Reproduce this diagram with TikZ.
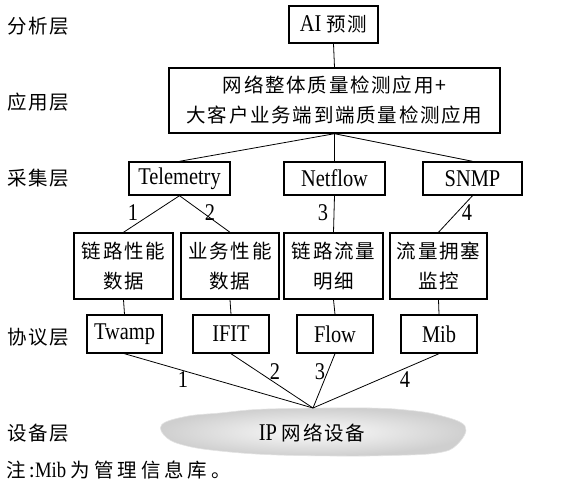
\documentclass[tikz,border=0pt]{standalone}
\usepackage{fontspec}
\setmainfont[FakeStretch=0.85]{Liberation Serif}
\newfontfamily\cjk[LetterSpace=9]{Noto Sans CJK SC}
\newfontfamily\cjkw[LetterSpace=20]{Noto Sans CJK SC}
\newcommand\zh[1]{{\cjk\fontsize{19.5}{30}\selectfont #1}}
\newcommand\zhw[1]{{\cjkw\fontsize{19.5}{30}\selectfont #1}}
\begin{document}
\begin{tikzpicture}[x=1pt,y=-1pt,
  box/.style={draw, line width=1.4pt, inner sep=0pt, align=center},
  lat/.style={font=\fontsize{24}{28}\selectfont},
  chn/.style={font=\cjk\fontsize{19.5}{30}\selectfont},
  lbl/.style={font=\fontsize{24}{28}\selectfont, inner sep=0pt},
  conn/.style={line width=0.8pt}]
\useasboundingbox (0,0) rectangle (573,481);
% cloud
\path[draw=gray!22, line width=0.6pt, inner color=white!97!gray, outer color=gray!38]
  plot[smooth cycle, tension=0.65] coordinates {
  (161.7,424.7) (186.7,416.3) (220,413) (253,409.7) (290,408.5) (330,408) (370,408)
  (403,409.7) (437,414.7) (465,426) (457,444.7) (437,453) (390,455.5) (337,456)
  (270,454.7) (220,451) (187,446) (167,438)};
\node[font=\fontsize{24}{28}\selectfont] (clt) at (312,433) {IP \zh{网络设备}};
\coordinate (cp) at (313,408);
% left labels
\node[chn, anchor=west, inner sep=0pt] (la) at (7,26) {分析层};
\node[chn, anchor=west, inner sep=0pt] (lb) at (7,102) {应用层};
\node[chn, anchor=west, inner sep=0pt] (lc) at (7,178) {采集层};
\node[chn, anchor=west, inner sep=0pt] (ld) at (7,337) {协议层};
\node[chn, anchor=west, inner sep=0pt] (le) at (7,433) {设备层};
\node[anchor=west, inner sep=0pt, font=\fontsize{22}{26}\selectfont] (note) at (6,470) {\zhw{注:}Mib \zhw{为管理信息库。}};
% boxes
\node[box, lat, minimum width=89, minimum height=37] (ai) at (333.5,24.5) {AI \zh{预测}};
\node[box, chn, minimum width=331, minimum height=65] (app) at (334.5,100.5) {网络整体质量检测应用+\\大客户业务端到端质量检测应用};
\node[box, lat, minimum width=101, minimum height=33] (tel) at (179.5,178.5) {Telemetry};
\node[box, lat, minimum width=101, minimum height=33] (nf) at (334.5,178.5) {Netflow};
\node[box, lat, minimum width=99, minimum height=33] (snmp) at (472.5,178.5) {SNMP};
\node[box, chn, minimum width=99, minimum height=66] (d1) at (123.5,266) {链路性能\\数据};
\node[box, chn, minimum width=98, minimum height=66] (d2) at (230,266) {业务性能\\数据};
\node[box, chn, minimum width=99, minimum height=66] (d3) at (333.5,266) {链路流量\\明细};
\node[box, chn, minimum width=97, minimum height=66] (d4) at (438.5,266) {流量拥塞\\监控};
\node[box, lat, minimum width=75, minimum height=38] (tw) at (124.5,334) {Twamp};
\node[box, lat, minimum width=76, minimum height=38] (ifit) at (231,334) {IFIT};
\node[box, lat, minimum width=76, minimum height=38] (flow) at (335,334) {Flow};
\node[box, lat, minimum width=76, minimum height=38] (mib) at (439,334) {Mib};
% connectors
\draw[conn] (ai.south) -- (app.north);
\draw[conn] (app.south) -- (tel.north);
\draw[conn] (app.south) -- (nf.north);
\draw[conn] (app.south) -- (snmp.north);
\draw[conn] (tel.south) -- (d1.north);
\draw[conn] (tel.south) -- (d2.north);
\draw[conn] (nf.south) -- (d3.north);
\draw[conn] (snmp.south) -- (d4.north);
\draw[conn] (d1.south) -- (tw.north);
\draw[conn] (d2.south) -- (ifit.north);
\draw[conn] (d3.south) -- (flow.north);
\draw[conn] (d4.south) -- (mib.north);
\draw[conn] (tw.south) -- (cp);
\draw[conn] (ifit.south) -- (cp);
\draw[conn] (flow.south) -- (cp);
\draw[conn] (mib.south) -- (cp);
% numbers
\node[lbl] (n1) at (133,213) {1};
\node[lbl] (n2) at (210,213) {2};
\node[lbl] (n3) at (323,213) {3};
\node[lbl] (n4) at (467,213) {4};
\node[lbl] (m1) at (183,380) {1};
\node[lbl] (m2) at (275,372) {2};
\node[lbl] (m3) at (320,372) {3};
\node[lbl] (m4) at (405,380) {4};
\end{tikzpicture}
\end{document}
